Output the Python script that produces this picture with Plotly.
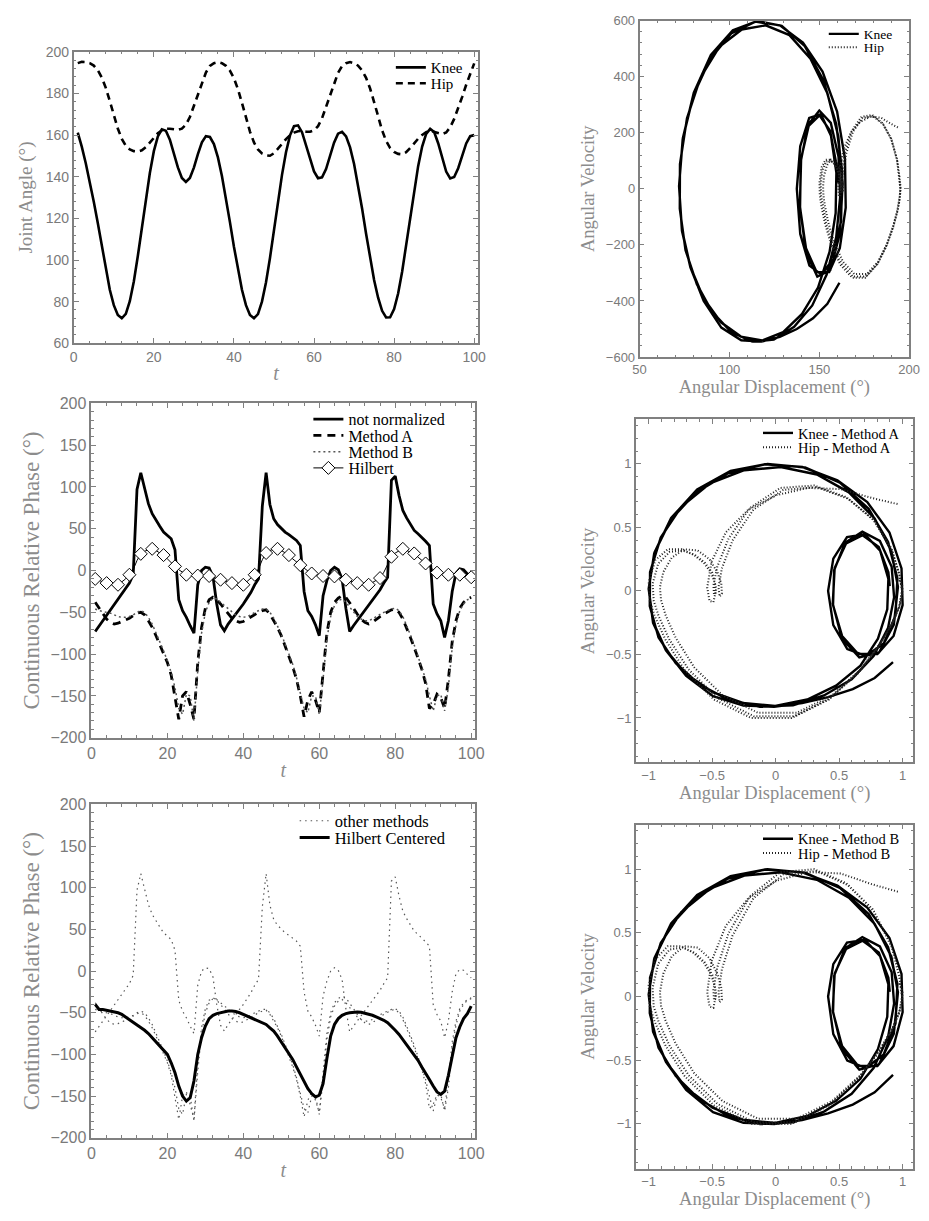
import plotly.graph_objects as go

# ---------------- data ----------------
t = list(range(1, 101))

knee = [161.2, 154.5, 146.5, 137.5, 128.0, 117.8, 106.6, 95.5, 85.7, 78.3,
        73.6, 72.0, 74.1, 80.2, 89.7, 101.9, 115.4, 129.1, 141.8, 152.3,
        159.4, 162.8, 162.1, 157.8, 151.3, 144.5, 139.4, 137.5, 139.4, 144.4,
        150.9, 156.5, 159.5, 159.1, 155.7, 149.3, 140.4, 129.9, 118.2, 106.4,
        95.3, 85.7, 78.3, 73.6, 72.0, 74.0, 80.0, 89.2, 101.0, 114.4,
        128.1, 140.9, 151.8, 159.9, 164.3, 164.7, 161.4, 155.5, 148.5, 142.6,
        139.3, 139.7, 143.7, 150.0, 156.4, 160.7, 161.6, 159.4, 154.1, 146.1,
        136.0, 124.7, 112.6, 101.0, 90.4, 81.9, 75.6, 72.4, 72.5, 76.4,
        83.9, 94.4, 106.9, 120.2, 133.4, 145.1, 154.5, 160.6, 163.0, 161.5,
        156.1, 148.9, 142.5, 139.2, 139.9, 144.1, 150.1, 156.0, 159.5, 160.0]

hip = [194.6, 195.2, 195.1, 194.6, 193.4, 191.2, 187.7, 182.7, 176.4, 169.5,
       163.2, 158.2, 154.9, 153.1, 152.3, 152.1, 152.7, 154.2, 156.4, 158.8,
       160.9, 162.3, 163.0, 163.1, 162.7, 162.5, 163.1, 165.0, 168.7, 174.0,
       179.9, 185.5, 190.1, 193.3, 194.6, 195.1, 194.6, 193.3, 191.0, 187.3,
       182.1, 175.5, 168.3, 161.7, 156.5, 153.1, 151.2, 150.3, 150.1, 151.3,
       153.5, 155.9, 158.1, 159.9, 161.2, 161.9, 162.0, 161.7, 161.6, 162.3,
       164.3, 168.1, 173.5, 179.5, 185.2, 189.9, 193.2, 194.6, 195.1, 194.6,
       193.4, 191.1, 187.5, 182.4, 175.9, 168.8, 162.3, 157.2, 153.8, 151.9,
       151.0, 150.8, 151.8, 153.8, 156.1, 158.3, 160.1, 161.4, 162.1, 161.6,
       160.9, 160.5, 161.3, 163.8, 167.8, 172.8, 178.4, 184.2, 189.7, 194.5]

knee_vel = [-335, -410, -462, -500, -528, -545, -540, -495, -400, -280,
            -150, 10, 180, 343, 477, 565, 598, 581, 510, 387,
            231, 59, -115, -248, -306, -274, -161, 0, 152, 253,
            266, 189, 57, -87, -225, -352, -446, -511, -541, -527,
            -476, -391, -278, -145, 9, 176, 334, 462, 554, 596,
            583, 521, 418, 275, 106, -67, -212, -297, -297, -212,
            -67, 97, 227, 279, 235, 114, -30, -173, -306, -416,
            -492, -538, -545, -511, -439, -340, -219, -71, 88, 251,
            396, 506, 568, 583, 548, 464, 341, 187, 20, -159,
            -290, -313, -223, -60, 108, 224, 262, 207, 88, 22]

hip_vel = [27, 11, -14, -39, -78, -131, -196, -260, -304, -304,
           -260, -191, -117, -60, -23, 9, 47, 83, 104, 101,
           79, 47, 18, -7, -14, 9, 56, 126, 203, 252,
           259, 230, 176, 101, 41, 0, -41, -83, -138, -205,
           -271, -317, -317, -271, -198, -122, -64, -25, 23, 77,
           104, 104, 90, 70, 45, 18, -5, -9, 14, 61,
           131, 207, 257, 263, 234, 180, 106, 43, 0, -39,
           -81, -136, -200, -267, -313, -313, -267, -196, -122, -64,
           -25, 18, 68, 97, 101, 90, 70, 45, 5, -28,
           -25, 9, 74, 146, 203, 239, 257, 254, 232, 216]

crp_not_norm = [-73, -66.5, -60, -53.5, -47, -40.5, -34, -27.5, -21, -15,
                -5, 97, 117, 97, 80, 68, 60, 53, 46, 42,
                38, 25, -35, -48, -56, -66, -75, -17, 0, 4,
                3, -7, -40, -65, -72, -64, -58, -52, -47, -40,
                -33, -26, -17, -10, 77, 117, 79, 62, 55, 50,
                46, 43, 40, 36, 30, -25, -48, -55, -65, -78,
                -30, -12, 0, 4, 1, -10, -45, -73, -66, -60,
                -54, -48, -42, -36, -30, -23, -15, -8, 108, 113,
                90, 72, 63, 56, 48, 44, 40, 35, 30, -40,
                -52, -60, -80, -60, -25, -3, 2, 1, -4, -8]

crp_method_a = [-38, -45, -52, -58, -62, -64, -63, -61, -59, -57,
                -54, -51, -50, -53, -60, -68, -78, -88, -98, -110,
                -125, -150, -178, -150, -145, -160, -178, -110, -68, -45,
                -35, -32, -35, -40, -46, -52, -57, -60, -62, -61,
                -58, -55, -52, -50, -48, -47, -52, -60, -68, -78,
                -90, -102, -115, -130, -150, -175, -155, -145, -155, -170,
                -120, -75, -50, -38, -33, -30, -32, -38, -45, -52,
                -58, -62, -64, -62, -58, -55, -52, -49, -47, -46,
                -50, -58, -68, -80, -92, -105, -118, -135, -165, -160,
                -148, -152, -165, -130, -85, -60, -45, -38, -34, -32]

crp_method_b = [-46, -48, -49, -50, -51, -53, -55, -56, -56, -55,
                -53, -50, -48, -50, -56, -64, -74, -85, -96, -108,
                -122, -140, -165, -172, -148, -150, -180, -120, -75, -50,
                -38, -33, -34, -38, -42, -46, -50, -53, -55, -56,
                -55, -53, -50, -48, -46, -46, -50, -57, -66, -76,
                -88, -100, -112, -128, -145, -165, -170, -150, -150, -172,
                -130, -82, -55, -42, -36, -34, -38, -44, -50, -55,
                -58, -60, -60, -58, -55, -52, -50, -48, -46, -45,
                -48, -55, -65, -77, -89, -102, -115, -130, -150, -168,
                -150, -148, -168, -140, -92, -65, -48, -40, -35, -33]

crp_hilbert = [-10, -12, -13.5, -15, -16, -16.5, -17, -14, -10, -5,
               1, 12, 20, 23, 25, 26, 24, 21, 18.5, 14,
               9, 5, 1, -2.5, -5, -5.5, -6, -6, -6.2, -6.3,
               -6.5, -8, -9.5, -11, -12.5, -14, -15, -16, -16.5, -17,
               -13, -9, -5, 2, 13, 21, 24, 25.5, 26, 24,
               21, 18.5, 14, 10, 6.5, 3, -0.5, -3.5, -5, -6,
               -6.5, -6.7, -6.9, -7, -8.5, -10, -11, -12.5, -14, -15,
               -16, -16.5, -17, -14, -11.5, -9, -2, 8, 16.5, 21,
               24, 26, 24, 22, 20.5, 16, 12, 8.5, 4.5, 1,
               -2.5, -3.5, -4.5, -5, -5, -5, -5, -4, -5, -8]

crp_hilbert_centered = [-40, -46, -46, -47, -48, -49, -50, -52, -55, -58,
                        -61, -64, -67, -71, -75, -80, -85, -90, -95, -100,
                        -110, -122, -138, -150, -156, -152, -132, -100, -80, -66,
                        -57, -53, -51, -50, -49, -48, -48, -48.5, -50, -52,
                        -54, -56, -58, -60, -62, -64, -68, -72, -78, -85,
                        -91, -98, -106, -115, -124, -133, -141, -147, -151, -149,
                        -135, -105, -78, -64, -57, -53, -51, -50, -49.5, -49,
                        -49.5, -50.5, -52, -53, -55, -57, -59, -62, -66, -71,
                        -76, -82, -88, -94, -100, -107, -115, -122, -130, -138,
                        -145, -148, -144, -125, -100, -80, -67, -57, -51, -42]


# ---------- normalisations used by the phase portraits ----------
def norm_disp(a):
    lo, hi = min(a), max(a)
    return [2 * (v - lo) / (hi - lo) - 1 for v in a]


def norm_vel_a(v):
    m = max(abs(x) for x in v)
    return [x / m for x in v]


def norm_vel_b(v):
    hi, lo = max(v), abs(min(v))
    return [x / hi if x > 0 else x / lo for x in v]


knee_x = norm_disp(knee)
hip_x = norm_disp(hip)

# ---------------- styling ----------------
SERIF = "Liberation Serif, Times New Roman, serif"
SANS = "Liberation Sans, Arial, sans-serif"
AX_COL = "#808080"
TXT_COL = "#7a7a7a"
TITLE_COL = "#8c8c8c"

W, H = 929, 1221


def dom_x(a, b):
    return [max(0.0, a / W), min(1.0, b / W)]


def dom_y(top, bottom):
    return [max(0.0, 1 - bottom / H), min(1.0, 1 - top / H)]


def axis(domain, rng, dtick, minor, tick_size, title=None, title_size=16,
         standoff=8, anchor=None):
    d = dict(
        domain=domain, range=rng, dtick=dtick, tick0=0,
        showline=True, linecolor=AX_COL, linewidth=1.6, mirror="allticks",
        ticks="inside", ticklen=5, tickwidth=1, tickcolor=AX_COL,
        minor=dict(ticks="inside", ticklen=2.5, tickwidth=1,
                   tickcolor=AX_COL, dtick=minor, tick0=0),
        showgrid=False, zeroline=False,
        tickfont=dict(family=SANS, size=tick_size, color=TXT_COL),
        anchor=anchor,
    )
    if title:
        d["title"] = dict(text=title, standoff=standoff,
                          font=dict(family=SERIF, size=title_size, color=TITLE_COL))
    return d


fig = go.Figure()
legends = {}
_leg_count = [0]


def new_legend(text_x, row_y, size):
    """one legend box per entry so that rows can sit as tightly as in the original"""
    _leg_count[0] += 1
    key = "legend" if _leg_count[0] == 1 else "legend%d" % _leg_count[0]
    legends[key] = dict(x=(text_x - 40) / W, y=1 - row_y / H,
                        xanchor="left", yanchor="middle",
                        bgcolor="rgba(0,0,0,0)", borderwidth=0,
                        itemwidth=30, tracegroupgap=0,
                        font=dict(family=SERIF, size=size, color="black"))
    return key


# ---- panel 1 : joint angles ----
fig.add_trace(go.Scatter(x=t, y=knee, name="Knee", mode="lines",
                         line=dict(color="black", width=2.6),
                         xaxis="x", yaxis="y", legend=new_legend(431, 60.5, 15)))
fig.add_trace(go.Scatter(x=t, y=hip, name="Hip", mode="lines",
                         line=dict(color="black", width=2.6, dash="7px,5px"),
                         xaxis="x", yaxis="y", legend=new_legend(431, 76.5, 15)))

# ---- panel 2 : CRP ----
fig.add_trace(go.Scatter(x=t, y=crp_not_norm, name="not normalized", mode="lines",
                         line=dict(color="black", width=2.8),
                         xaxis="x2", yaxis="y2", legend=new_legend(347, 417, 16)))
fig.add_trace(go.Scatter(x=t, y=crp_method_a, name="Method A", mode="lines",
                         line=dict(color="black", width=2.8, dash="8px,6px"),
                         xaxis="x2", yaxis="y2", legend=new_legend(347, 433.5, 16)))
fig.add_trace(go.Scatter(x=t, y=crp_method_b, name="Method B", mode="lines",
                         line=dict(color="#555555", width=1.5, dash="2px,3px"),
                         xaxis="x2", yaxis="y2", legend=new_legend(347, 450, 16)))
fig.add_trace(go.Scatter(x=t, y=crp_hilbert, name="Hilbert", mode="lines",
                         line=dict(color="black", width=1),
                         showlegend=False, xaxis="x2", yaxis="y2"))
fig.add_trace(go.Scatter(x=t[::3], y=crp_hilbert[::3], name="Hilbert", mode="markers",
                         marker=dict(symbol="diamond", size=10, color="white",
                                     line=dict(color="black", width=1)),
                         showlegend=False, xaxis="x2", yaxis="y2"))
fig.add_trace(go.Scatter(x=[None], y=[None], name="Hilbert", mode="lines+markers",
                         line=dict(color="black", width=1),
                         marker=dict(symbol="diamond", size=10, color="white",
                                     line=dict(color="black", width=1)),
                         xaxis="x2", yaxis="y2", legend=new_legend(347, 466.5, 16)))

# ---- panel 3 : Hilbert centred ----
leg_other = new_legend(333, 824.5, 16.5)
for i, series in enumerate([crp_not_norm, crp_method_a, crp_method_b]):
    fig.add_trace(go.Scatter(x=t, y=series, name="other methods", mode="lines",
                             line=dict(color="#555555", width=1.2, dash="1.5px,4px"),
                             showlegend=(i == 0), legendgroup="other",
                             xaxis="x3", yaxis="y3", legend=leg_other))
fig.add_trace(go.Scatter(x=t, y=crp_hilbert_centered, name="Hilbert Centered", mode="lines",
                         line=dict(color="black", width=3),
                         xaxis="x3", yaxis="y3", legend=new_legend(333, 841.5, 16.5)))

# ---- panel 4 : raw phase portrait ----
fig.add_trace(go.Scatter(x=knee, y=knee_vel, name="Knee", mode="lines",
                         line=dict(color="black", width=2.4),
                         xaxis="x4", yaxis="y4", legend=new_legend(872, 26.5, 13.5)))
fig.add_trace(go.Scatter(x=hip, y=hip_vel, name="Hip", mode="lines",
                         line=dict(color="#222222", width=2, dash="1px,2px"),
                         xaxis="x4", yaxis="y4", legend=new_legend(872, 40, 13.5)))

# ---- panel 5 : Method A ----
fig.add_trace(go.Scatter(x=knee_x, y=norm_vel_a(knee_vel), name="Knee - Method A", mode="lines",
                         line=dict(color="black", width=2.4),
                         xaxis="x5", yaxis="y5", legend=new_legend(805, 431, 14.5)))
fig.add_trace(go.Scatter(x=hip_x, y=norm_vel_a(hip_vel), name="Hip - Method A", mode="lines",
                         line=dict(color="#222222", width=2, dash="1px,2px"),
                         xaxis="x5", yaxis="y5", legend=new_legend(805, 445.5, 14.5)))

# ---- panel 6 : Method B ----
fig.add_trace(go.Scatter(x=knee_x, y=norm_vel_b(knee_vel), name="Knee - Method B", mode="lines",
                         line=dict(color="black", width=2.4),
                         xaxis="x6", yaxis="y6", legend=new_legend(805, 842.5, 14.5)))
fig.add_trace(go.Scatter(x=hip_x, y=norm_vel_b(hip_vel), name="Hip - Method B", mode="lines",
                         line=dict(color="#222222", width=2, dash="1px,2px"),
                         xaxis="x6", yaxis="y6", legend=new_legend(805, 857, 14.5)))

T_LABEL = "<i>t</i>"
DISP = "Angular Displacement (°)"
NORM_RANGE = [-1.1, 1.085]

layout = dict(
    width=W, height=H, margin=dict(l=0, r=0, t=0, b=0),
    paper_bgcolor="white", plot_bgcolor="white",
    xaxis=axis(dom_x(68, 480), [0, 101], 20, 4, 14, T_LABEL, 20, 2, anchor="y"),
    yaxis=axis(dom_y(44.5, 340), [60, 200], 20, 4, 14, "Joint Angle (°)", 19, 8, anchor="x"),
    xaxis2=axis(dom_x(86, 476.7), [0, 101], 20, 4, 16, T_LABEL, 20, 2, anchor="y2"),
    yaxis2=axis(dom_y(401, 740), [-200, 200], 50, 10, 16,
                "Continuous Relative Phase (°)", 23, 4, anchor="x2"),
    xaxis3=axis(dom_x(86, 476.7), [0, 101], 20, 4, 16, T_LABEL, 20, 2, anchor="y3"),
    yaxis3=axis(dom_y(807.7, 1145.7), [-200, 200], 50, 10, 16,
                "Continuous Relative Phase (°)", 23, 4, anchor="x3"),
    xaxis4=axis(dom_x(644.3, 919), [50, 200], 50, 10, 13, DISP, 18.5, 2, anchor="y4"),
    yaxis4=axis(dom_y(12.7, 354), [-600, 600], 200, 40, 13, "Angular Velocity", 18.5, 6, anchor="x4"),
    xaxis5=axis(dom_x(640.7, 923.3), NORM_RANGE, 0.5, 0.1, 13, DISP, 18.5, 2, anchor="y5"),
    yaxis5=axis(dom_y(417.2, 765.1), [-1.35, 1.35], 0.5, 0.1, 13, "Angular Velocity", 18.5, 6, anchor="x5"),
    xaxis6=axis(dom_x(640.7, 923.3), NORM_RANGE, 0.5, 0.1, 13, DISP, 18.5, 2, anchor="y6"),
    yaxis6=axis(dom_y(828.1, 1176.9), [-1.35, 1.35], 0.5, 0.1, 13, "Angular Velocity", 18.5, 6, anchor="x6"),
)
layout.update(legends)

fig.update_layout(**layout)
fig.write_html("out.html")
